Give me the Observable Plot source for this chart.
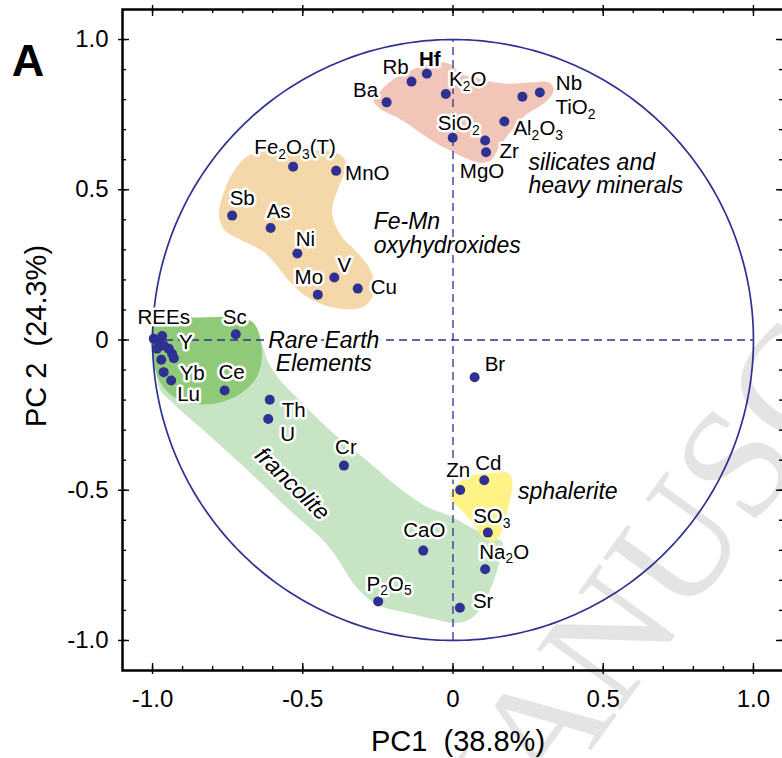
<!DOCTYPE html>
<html>
<head>
<meta charset="utf-8">
<script src="https://cdn.jsdelivr.net/npm/d3@7"></script>
<script src="https://cdn.jsdelivr.net/npm/@observablehq/plot@0.6"></script>
<style>
  html, body { margin: 0; padding: 0; background: #fff; overflow: hidden; }
  #chart { width: 782px; height: 758px; overflow: hidden; }
  #chart svg { max-width: none !important; }
</style>
</head>
<body>
<div id="chart"></div>
<script>
// Loadings of each variable on the first two principal components
const variables = [
  "Ba", "Rb", "Hf", "K₂O", "SiO₂", "Zr", "MgO", "Al₂O₃", "TiO₂", "Nb",
  "Fe₂O₃(T)", "MnO", "Sb", "As", "Ni", "V", "Mo", "Cu",
  "La", "Pr", "Nd", "Sm", "Eu", "Y", "Gd", "Dy", "Ho", "Yb", "Lu",
  "Sc", "Ce", "Th", "U", "Cr", "CaO", "P₂O₅",
  "Zn", "Cd", "SO₃", "Na₂O", "Sr", "Br"
];
const pc1 = [
  -0.221, -0.138, -0.087, -0.024, -0.001, 0.107, 0.110, 0.171, 0.231, 0.289,
  -0.532, -0.389, -0.735, -0.607, -0.518, -0.395, -0.450, -0.317,
  -0.996, -0.968, -0.979, -0.963, -0.985, -0.946, -0.935, -0.929, -0.971, -0.963, -0.938,
  -0.723, -0.760, -0.610, -0.615, -0.363, -0.099, -0.249,
  0.024, 0.104, 0.116, 0.107, 0.023, 0.072
];
const pc2 = [
  0.791, 0.860, 0.886, 0.819, 0.673, 0.664, 0.625, 0.727, 0.810, 0.824,
  0.577, 0.563, 0.414, 0.373, 0.288, 0.208, 0.151, 0.171,
  0.004, 0.013, -0.007, -0.018, -0.029, -0.029, -0.046, -0.061, -0.066, -0.107, -0.135,
  0.019, -0.168, -0.199, -0.263, -0.418, -0.701, -0.870,
  -0.499, -0.467, -0.641, -0.763, -0.891, -0.124
];

// Outlines of the shaded variable groups, as [PC1, PC2] vertices
const francoliteOutline = [
  [-0.957, 0.031], [-0.707, 0.071], [-0.657, 0.047], [-0.634, -0.019], [-0.614, -0.076],
  [-0.574, -0.136], [-0.507, -0.203], [-0.418, -0.293], [-0.285, -0.403], [-0.175, -0.496],
  [-0.085, -0.556], [-0.002, -0.589], [0.058, -0.623], [0.135, -0.659], [0.165, -0.673],
  [0.158, -0.726], [0.135, -0.802], [0.101, -0.879], [0.058, -0.929], [0.008, -0.942],
  [-0.065, -0.929], [-0.151, -0.909], [-0.241, -0.886], [-0.281, -0.862], [-0.324, -0.819],
  [-0.418, -0.682], [-0.541, -0.569], [-0.707, -0.412], [-0.840, -0.292], [-0.930, -0.212],
  [-0.980, -0.152]
];
const reeOutline = [
  [-0.980, 0.072], [-0.840, 0.075], [-0.707, 0.074], [-0.665, 0.058], [-0.644, 0.014],
  [-0.636, -0.053], [-0.651, -0.119], [-0.694, -0.169], [-0.767, -0.206], [-0.857, -0.213],
  [-0.923, -0.193], [-0.970, -0.149], [-0.995, -0.083], [-1.005, -0.009], [-1.000, 0.044]
];
const feMnOutline = [
  [-0.680, 0.614], [-0.602, 0.630], [-0.491, 0.630], [-0.391, 0.625], [-0.358, 0.597],
  [-0.363, 0.553], [-0.385, 0.497], [-0.402, 0.441], [-0.397, 0.397], [-0.369, 0.341],
  [-0.324, 0.297], [-0.280, 0.242], [-0.264, 0.197], [-0.269, 0.142], [-0.302, 0.108],
  [-0.358, 0.103], [-0.424, 0.114], [-0.491, 0.147], [-0.546, 0.197], [-0.591, 0.253],
  [-0.635, 0.297], [-0.713, 0.336], [-0.763, 0.369], [-0.779, 0.414], [-0.768, 0.475],
  [-0.735, 0.553]
];
const silicateOutline = [
  [-0.264, 0.797], [-0.241, 0.830], [-0.197, 0.869], [-0.141, 0.897], [-0.086, 0.919],
  [-0.036, 0.925], [-0.003, 0.914], [0.025, 0.886], [0.092, 0.869], [0.136, 0.858],
  [0.191, 0.853], [0.269, 0.858], [0.319, 0.858], [0.335, 0.836], [0.324, 0.808],
  [0.291, 0.780], [0.247, 0.753], [0.214, 0.719], [0.169, 0.664], [0.147, 0.630],
  [0.125, 0.597], [0.081, 0.591], [0.036, 0.608], [-0.008, 0.630], [-0.053, 0.653],
  [-0.119, 0.697], [-0.186, 0.741], [-0.241, 0.769]
];
const sphaleriteOutline = [
  [-0.008, -0.513], [0.014, -0.480], [0.058, -0.452], [0.114, -0.445], [0.180, -0.441],
  [0.197, -0.469], [0.191, -0.525], [0.175, -0.591], [0.158, -0.647], [0.136, -0.669],
  [0.108, -0.663], [0.069, -0.613], [0.031, -0.569], [-0.003, -0.536]
];

// Group names written inside the plot
const groupNames = ["silicates and\nheavy minerals", "Fe-Mn\noxyhydroxides", "Rare Earth\nElements", "sphalerite", "francolite"];
const groupPc1 = [0.251, -0.264, -0.430, 0.216, -0.535];
const groupPc2 = [0.553, 0.354, -0.041, -0.503, -0.479];

// Axis ticks
const majorTicks = [-1, -0.5, 0, 0.5, 1];
const tickLabels = ["-1.0", "-0.5", "0", "0.5", "1.0"];
const minorTicks = d3.range(-10, 11).map(i => i / 10);

const xTitle = "PC1\u00a0\u00a0(38.8%)";
const yTitle = "PC 2\u00a0\u00a0(24.3%)";
const panelLetter = "A";

// ---- layout and styling ----
const W = 790, H = 758;
const M = {top: 9, left: 122, right: W - 783, bottom: H - 670};
const domain = [-1.1, 1.1];
const [lo, hi] = domain;
const u = (hi - lo) / (H - M.top - M.bottom); // data units per pixel
const NAVY = "#2e3192";
const FONT = "'Liberation Sans', Arial, Helvetica, sans-serif";

const rows = variables.map((name, i) => ({name, x: pc1[i], y: pc2[i]}));
const byName = new Map(rows.map(d => [d.name, d]));

// Label placement next to each dot: [variable, dx, dy, text-anchor]
const labelPlacement = [
  ["Ba", -21, -12, "middle"], ["Rb", -16, -14, "middle"], ["Hf", 3, -14, "middle"],
  ["K₂O", 22, -14, "middle"], ["SiO₂", 6, -14, "middle"], ["Zr", 24, 11, "middle"],
  ["MgO", -4, 19, "middle"], ["Al₂O₃", 9, 7, "start"], ["TiO₂", 33, 11, "start"],
  ["Nb", 16, -9, "start"],
  ["Fe₂O₃(T)", 2, -19, "middle"], ["MnO", 9, 3, "start"], ["Sb", 10, -17, "middle"],
  ["As", 8, -16, "middle"], ["Ni", 8, -14, "middle"], ["V", 10, -12, "middle"],
  ["Mo", -9, -17, "middle"], ["Cu", 13, -1, "start"],
  ["La", 10, -21, "middle"], ["Y", 17, -6, "middle"], ["Yb", 16, 1, "start"], ["Lu", 6, 14, "start"],
  ["Sc", -1, -17, "middle"], ["Ce", 7, -18, "middle"], ["Th", 12, 11, "start"],
  ["U", 12, 15, "start"], ["Cr", 2, -18, "middle"], ["CaO", 1, -20, "middle"],
  ["P₂O₅", 11, -17, "middle"],
  ["Zn", -2, -19, "middle"], ["Cd", 4, -17, "middle"], ["SO₃", 4, -16, "middle"],
  ["Na₂O", 19, -17, "middle"], ["Sr", 13, -6, "start"], ["Br", 10, -13, "start"]
];
const labelText = {La: "REEs"};

const halo = {stroke: "white", strokeWidth: 5, paintOrder: "stroke", strokeLinejoin: "round"};

const outlines = [
  [francoliteOutline, "#c7e5c4"],
  [reeOutline, "#8fca78"],
  [feMnOutline, "#f5d8a9"],
  [silicateOutline, "#f1c5b7"],
  [sphaleriteOutline, "#fff385"]
];

// Unit correlation circle
const circle = d3.range(0, 361).map(a => [Math.cos(a * Math.PI / 180), Math.sin(a * Math.PI / 180)]);

const tickStyle = {stroke: "black", strokeWidth: 1.4};

const chart = Plot.plot({
  width: W,
  height: H,
  marginTop: M.top,
  marginLeft: M.left,
  marginRight: M.right,
  marginBottom: M.bottom,
  x: {domain},
  y: {domain},
  style: {fontFamily: FONT, background: "white", overflow: "visible", maxWidth: "none"},
  marks: [
    // background stamp
    Plot.text(["MANUSCRIPT"], {
      x: 0.91, y: -0.46, text: d => d, rotate: -54, fontSize: 158,
      textAnchor: "middle", lineAnchor: "middle",
      fontFamily: "'Liberation Serif', 'Times New Roman', serif", fill: "#e4e4e4"
    }),
    // shaded groups
    ...outlines.map(([pts, color]) => Plot.line(pts, {
      x: d => d[0], y: d => d[1], curve: "catmull-rom-closed", fill: color, stroke: "none"
    })),
    // dashed zero lines
    Plot.ruleX([0], {y1: -1, y2: 1, stroke: NAVY, strokeWidth: 1.3, strokeDasharray: "8,5"}),
    Plot.ruleY([0], {x1: -1, x2: 1, stroke: NAVY, strokeWidth: 1.3, strokeDasharray: "8,5"}),
    Plot.line(circle, {x: d => d[0], y: d => d[1], stroke: NAVY, strokeWidth: 1.7}),
    Plot.dot(rows, {x: "x", y: "y", r: 5, fill: NAVY, stroke: "none"}),
    // variable labels
    ...labelPlacement.map(([name, dx, dy, anchor]) => Plot.text([byName.get(name)], {
      x: "x", y: "y", text: d => labelText[d.name] ?? d.name,
      dx, dy, textAnchor: anchor, fontSize: 20.5, fill: "black",
      fontWeight: name === "Hf" ? "bold" : "normal", ...halo
    })),
    // group names
    ...groupNames.map((g, i) => Plot.text([g], {
      x: groupPc1[i], y: groupPc2[i], text: d => d,
      textAnchor: (g === "Rare Earth\nElements" || g === "francolite") ? "middle" : "start",
      rotate: g === "francolite" ? 44 : 0,
      fontSize: 23, fontStyle: "italic", lineHeight: 1.01, fill: "black", ...halo
    })),
    Plot.frame({stroke: "black", strokeWidth: 2.5}),
    // ticks on all four sides
    Plot.ruleX(minorTicks, {x: d => d, y1: lo, y2: lo + 4 * u, ...tickStyle}),
    Plot.ruleX(majorTicks, {x: d => d, y1: lo - 4 * u, y2: lo + 7 * u, ...tickStyle}),
    Plot.ruleX(minorTicks, {x: d => d, y1: hi, y2: hi - 4 * u, ...tickStyle}),
    Plot.ruleX(majorTicks, {x: d => d, y1: hi + 4 * u, y2: hi - 7 * u, ...tickStyle}),
    Plot.ruleY(minorTicks, {y: d => d, x1: lo, x2: lo + 4 * u, ...tickStyle}),
    Plot.ruleY(majorTicks, {y: d => d, x1: lo - 4 * u, x2: lo + 7 * u, ...tickStyle}),
    Plot.ruleY(minorTicks, {y: d => d, x1: hi, x2: hi - 4 * u, ...tickStyle}),
    Plot.ruleY(majorTicks, {y: d => d, x1: hi + 4 * u, x2: hi - 7 * u, ...tickStyle}),
    Plot.axisX({
      ticks: majorTicks, tickFormat: d => tickLabels[majorTicks.indexOf(d)],
      tickSize: 0, tickPadding: 19, fontSize: 24, label: null
    }),
    Plot.axisY({
      ticks: majorTicks, tickFormat: d => tickLabels[majorTicks.indexOf(d)],
      tickSize: 0, tickPadding: 14, fontSize: 24, label: null
    }),
    // axis titles and panel letter
    Plot.text([xTitle], {
      frameAnchor: "bottom", text: d => d, dx: 5, dy: 71,
      textAnchor: "middle", lineAnchor: "middle", fontSize: 29
    }),
    Plot.text([yTitle], {
      frameAnchor: "left", text: d => d, dx: -86, dy: -4, rotate: -90,
      textAnchor: "middle", lineAnchor: "middle", fontSize: 29
    }),
    Plot.text([panelLetter], {
      frameAnchor: "top-left", text: d => d, dx: -94.5, dy: 66,
      textAnchor: "middle", lineAnchor: "bottom", fontSize: 45, fontWeight: "bold"
    })
  ]
});
chart.style.maxWidth = "none";

// Render chemical subscripts (₂, ₃, ₅) as lowered, smaller digits
const SUB = "₀₁₂₃₄₅₆₇₈₉";
chart.querySelectorAll("text").forEach(t => {
  if (t.children.length) return;
  const s = t.textContent;
  if (![...s].some(c => SUB.includes(c))) return;
  t.textContent = "";
  let lowered = false;
  for (const run of s.match(/[₀-₉]+|[^₀-₉]+/g)) {
    const isSub = SUB.includes(run[0]);
    const ts = document.createElementNS("http://www.w3.org/2000/svg", "tspan");
    ts.textContent = isSub ? [...run].map(c => SUB.indexOf(c)).join("") : run;
    if (isSub) {
      ts.setAttribute("font-size", "0.68em");
      ts.setAttribute("dy", "4.5");
    } else if (lowered) {
      ts.setAttribute("dy", "-4.5");
    }
    lowered = isSub;
    t.appendChild(ts);
  }
});

document.getElementById("chart").appendChild(chart);
</script>
</body>
</html>
